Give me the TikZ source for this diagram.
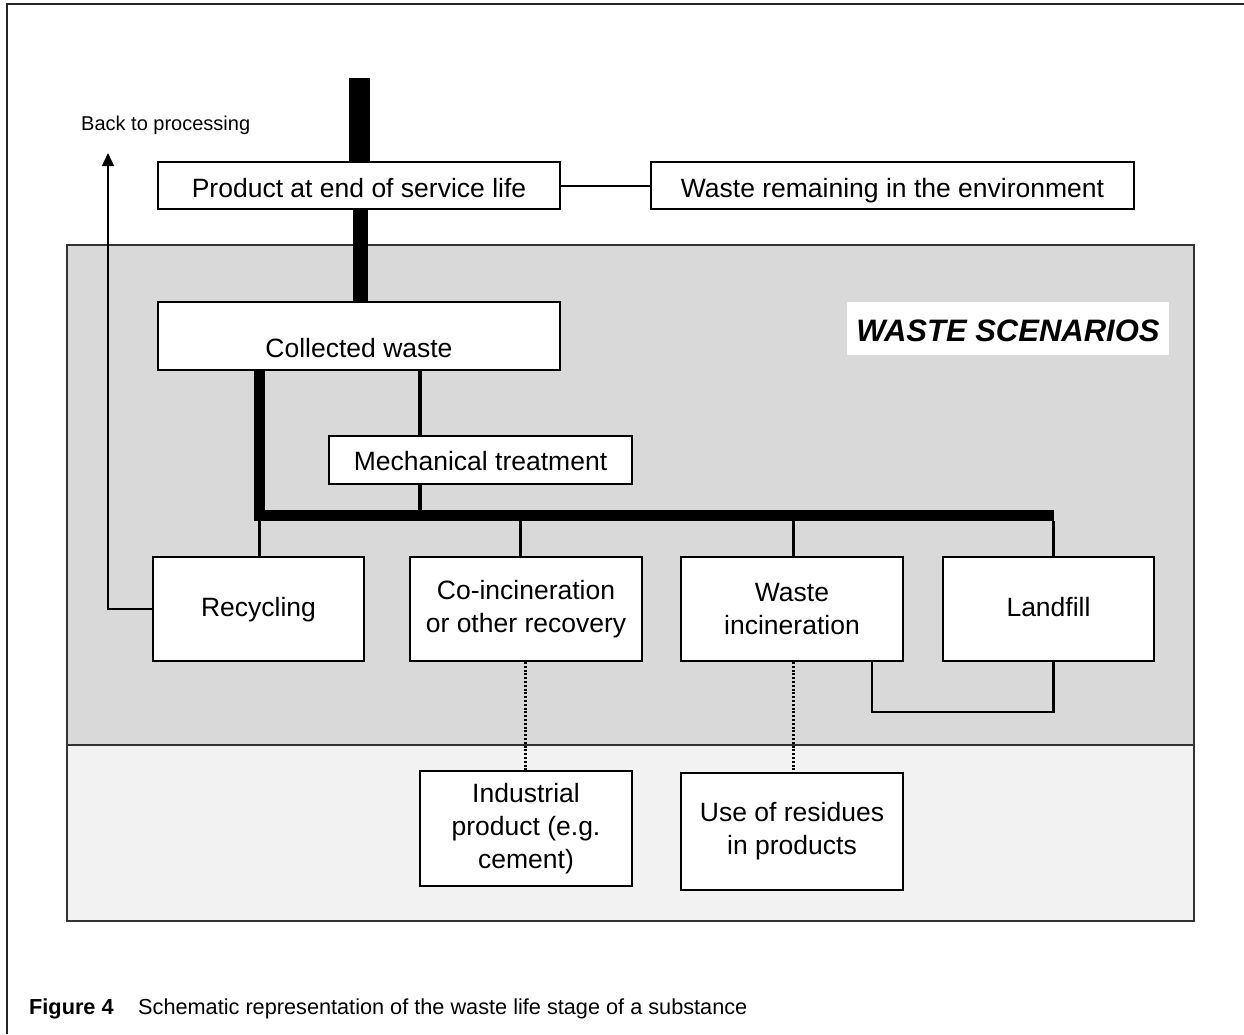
\documentclass[tikz,border=0pt]{standalone}
\usepackage{fontspec}
\setmainfont{Liberation Sans}
\usetikzlibrary{arrows.meta,calc}
\definecolor{zonegray}{HTML}{D9D9D9}
\definecolor{zonelight}{HTML}{F2F2F2}
\begin{document}
\begin{tikzpicture}[x=1pt,y=-1pt,
  boxnode/.style={draw=black,line width=1.8pt,fill=white,inner sep=0pt,align=center,
    font=\fontsize{26.5}{33}\selectfont},
  zone/.style={draw=black!80,line width=1.5pt},
  thin/.style={line width=2pt},
  dotline/.style={line width=3pt,dash pattern=on 2pt off 1.8pt},
  heavy/.style={line width=11pt,line join=miter}]
\useasboundingbox (0,0) rectangle (1244,1034);
\fill[white] (0,0) rectangle (1244,1034);
% frame (left and top)
\draw[line width=2.2pt,black!85] (7.3,1034) -- (7.3,4.3) -- (1244,4.3);
% zones
\draw[zone,fill=zonegray] (67,245) rectangle (1194,745);
\draw[zone,fill=zonelight] (67,745) rectangle (1194,921);
% nodes
\node[boxnode,minimum width=402,minimum height=47,text height=24,text depth=0] (prod) at (359,185.5) {Product at end of service life};
\node[boxnode,minimum width=483,minimum height=47,text height=24,text depth=0] (env) at (892.5,185.5) {Waste remaining in the environment};
\node[boxnode,minimum width=402,minimum height=68,text height=42,text depth=0] (coll) at (359,336) {Collected waste};
\node[boxnode,minimum width=303,minimum height=48,text height=20,text depth=0] (mech) at (480.5,460) {Mechanical treatment};
\node[boxnode,minimum width=211,minimum height=104,text height=14,text depth=0] (rec) at (258.5,609) {Recycling};
\node[boxnode,minimum width=232,minimum height=104] (coinc) at (526,609) {Co-incineration\\or other recovery};
\node[boxnode,minimum width=222,minimum height=104] (winc) at (792,609) {Waste\\incineration};
\node[boxnode,minimum width=211,minimum height=104,text height=14,text depth=0] (land) at (1048.5,609) {Landfill};
\node[boxnode,minimum width=212,minimum height=115] (ind) at (526,828.5) {Industrial\\product (e.g.\\cement)};
\node[boxnode,minimum width=222,minimum height=117] (res) at (792,831.5) {Use of residues\\in products};
\node[fill=white,inner sep=0pt,minimum width=322,minimum height=53,text height=25,text depth=0,
  font=\fontsize{31}{36}\selectfont\bfseries\itshape] (ws) at (1008,328.5) {WASTE SCENARIOS};
\node[anchor=base west,inner sep=0pt,font=\fontsize{20}{24}\selectfont] (backlbl) at (81,130) {Back to processing};
\node[anchor=base west,inner sep=0pt,font=\fontsize{21.7}{26}\selectfont\bfseries] (fig) at (29,1014) {Figure 4};
\node[anchor=base west,inner sep=0pt,font=\fontsize{21.7}{26}\selectfont] (cap) at (138,1014) {Schematic representation of the waste life stage of a substance};
% coordinates
\coordinate (top) at (359,78);
\coordinate (bl) at (259.5,515.5);
\coordinate (br) at (1053.5,515.5);
\coordinate (mx) at (420,0);
\coordinate (loop) at (1053.5,712);
\coordinate (back) at (108,153);
% main flow
\draw[line width=21pt] (top) -- (prod.north);
\draw[line width=15pt] ([xshift=1.5pt]prod.south) -- ([xshift=1.5pt]coll.north);
\draw[heavy] (coll.south -| bl) -- (bl) -- (br);
\draw[line width=4.3pt] (coll.south -| mx) -- (mech.north -| mx);
\draw[line width=4.3pt] (mech.south -| mx) -- ([yshift=-5pt]bl -| mx);
% branches
\draw[line width=3pt] (rec.north -| bl) -- ([yshift=-5pt]bl);
\draw[line width=3pt] ([xshift=-5.5pt]coinc.north) -- ([xshift=-5.5pt,yshift=-5pt]coinc.north |- br);
\draw[line width=3pt] ([xshift=1pt]winc.north) -- ([xshift=1pt,yshift=-5pt]winc.north |- br);
\draw[line width=3pt] (land.north -| br) -- ([yshift=-5pt]br);
% landfill loop
\draw[line width=2.5pt] ([xshift=80pt]winc.south) |- (loop) -- (land.south -| loop);
% dotted links
\draw[dotline] ([xshift=-1pt]coinc.south) -- ([xshift=-1pt]ind.north);
\draw[dotline] ([xshift=1pt]winc.south) -- ([xshift=1pt]res.north);
% environment link
\draw[thin] (prod.east) -- (env.west);
% back to processing
\draw[line width=1.5pt,-{Triangle[length=13pt,width=12pt]}] (rec.west) -| (back);
\end{tikzpicture}
\end{document}
